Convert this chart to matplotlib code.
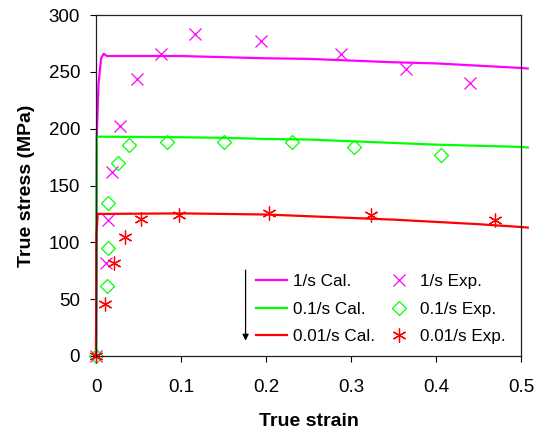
import matplotlib.pyplot as plt
import numpy as np

plt.rcParams['font.family'] = ['Liberation Sans', 'DejaVu Sans']

# calculated flow curves (strain, stress in MPa)
cal_strain_1 = [0, 0.001, 0.003, 0.006, 0.009, 0.013, 0.05, 0.1, 0.15, 0.2, 0.25, 0.3, 0.35, 0.4, 0.45, 0.5, 0.508]
cal_stress_1 = [0, 195, 240, 262, 266, 264, 264, 264, 263, 262, 261.5, 260, 258.5, 257.5, 255.5, 253.5, 253]

cal_strain_01 = [0, 0.001, 0.01, 0.1, 0.15, 0.2, 0.25, 0.3, 0.35, 0.4, 0.45, 0.5, 0.508]
cal_stress_01 = [0, 193, 193, 192.5, 192, 191, 190.5, 189, 187.5, 186, 185, 184, 183.5]

cal_strain_001 = [0, 0.0005, 0.002, 0.1, 0.2, 0.25, 0.3, 0.35, 0.4, 0.45, 0.5, 0.508]
cal_stress_001 = [0, 107, 125, 125.5, 124.5, 123, 121.5, 120, 118, 116, 113.5, 113]

# experimental points
exp_strain_1 = [0, 0.0117, 0.0145, 0.0184, 0.0282, 0.0477, 0.077, 0.117, 0.194, 0.288, 0.365, 0.440]
exp_stress_1 = [0, 82, 120, 162, 202, 244, 266, 283, 277, 266, 253, 240]

exp_strain_01 = [0, 0.0125, 0.0145, 0.0145, 0.026, 0.039, 0.084, 0.151, 0.231, 0.304, 0.406]
exp_stress_01 = [0, 61.6, 95, 135, 170, 185.5, 188.5, 188.5, 188, 183.5, 177]

exp_strain_001 = [0, 0.0106, 0.0215, 0.034, 0.053, 0.098, 0.204, 0.323, 0.470]
exp_stress_001 = [0, 46, 81.5, 105, 120.5, 124, 125.5, 124, 120]

magenta = '#FF00FF'
green = '#00FF00'
red = '#FF0000'

fig = plt.figure(figsize=(5.53, 4.32), dpi=100)
ax = fig.add_axes([0.1736, 0.176, 0.7684, 0.789])

l1, = ax.plot(cal_strain_1, cal_stress_1, color=magenta, lw=1.6, clip_on=False, label='1/s Cal.')
l2, = ax.plot(cal_strain_01, cal_stress_01, color=green, lw=1.6, clip_on=False, label='0.1/s Cal.')
l3, = ax.plot(cal_strain_001, cal_stress_001, color=red, lw=1.6, clip_on=False, label='0.01/s Cal.')

m1, = ax.plot(exp_strain_1, exp_stress_1, ls='none', marker='x', ms=9, mew=0.9,
              color=magenta, clip_on=False, label='1/s Exp.')
m2, = ax.plot(exp_strain_01, exp_stress_01, ls='none', marker='D', ms=7, mew=0.9,
              mfc='none', mec=green, clip_on=False, label='0.1/s Exp.')
m3, = ax.plot(exp_strain_001, exp_stress_001, ls='none', marker=(6, 2, 0), ms=10, mew=0.9,
              color=red, clip_on=False, label='0.01/s Exp.')

ax.set_xlim(0, 0.5)
ax.set_ylim(0, 300)
ax.set_xticks(np.arange(0, 0.51, 0.1))
ax.set_xticklabels(['0', '0.1', '0.2', '0.3', '0.4', '0.5'])
ax.set_yticks(np.arange(0, 301, 50))

ax.tick_params(direction='out', length=4.5, width=0.8, labelsize=13.5)
ax.tick_params(axis='x', pad=12)
ax.tick_params(axis='y', pad=7)
for s in ax.spines.values():
    s.set_linewidth(0.9)
    s.set_color('#222222')

ax.set_xlabel('True strain', fontsize=14, fontweight='bold', labelpad=12)
ax.set_ylabel('True stress (MPa)', fontsize=14, fontweight='bold', labelpad=10)

leg = ax.legend(handles=[l1, l2, l3, m1, m2, m3], ncol=2, frameon=False, fontsize=12.3,
                loc='lower left', bbox_to_anchor=(0.34, -0.01), handlelength=1.85,
                handletextpad=0.3, columnspacing=0.5, labelspacing=0.72)

# arrow pointing towards lower strain rates
ax.annotate('', xy=(0.176, 11), xytext=(0.176, 78),
            arrowprops=dict(arrowstyle='-|>', color='black', lw=0.9, mutation_scale=9))

fig.savefig('out.png', dpi=100)
